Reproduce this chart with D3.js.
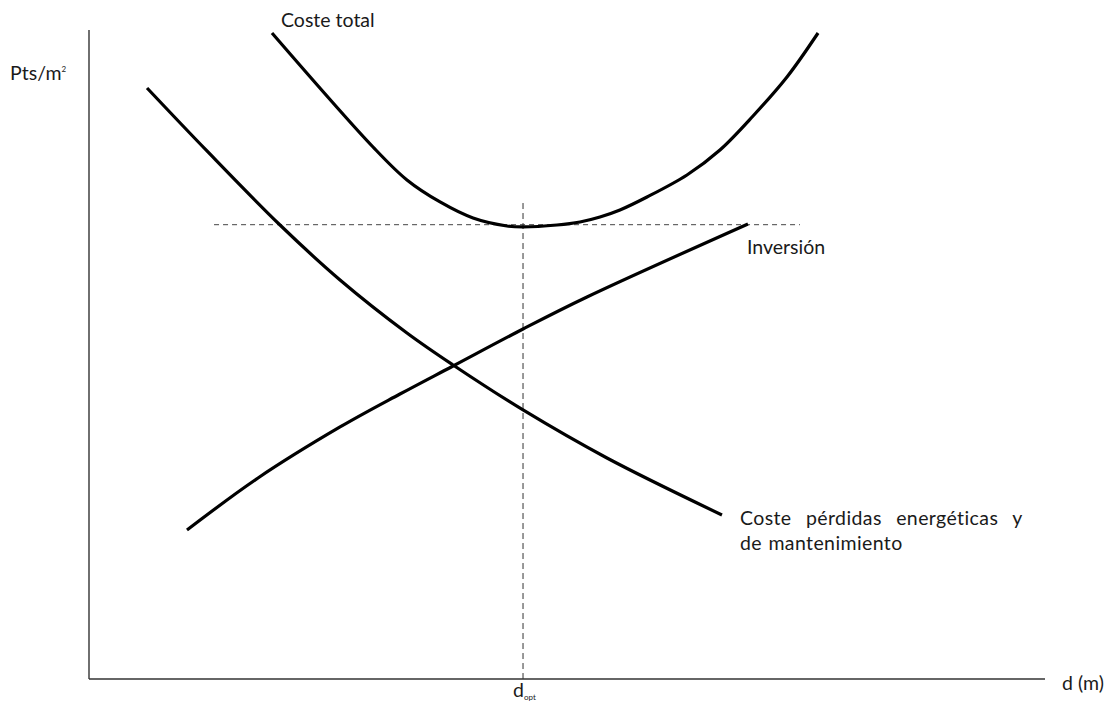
<!DOCTYPE html>
<html>
<head>
  <meta charset="utf-8">
  <title>Coste total - espesor optimo</title>
  <script src="https://d3js.org/d3.v7.min.js"></script>
  <style>
    body { margin: 0; background: #fff; }
    svg text { font-family: Lato, "Open Sans", sans-serif; fill: #1a1a1a; font-size: 19.5px; }
  </style>
</head>
<body>
<div id="grafico"></div>
<script>
// curvas (d en unidades arbitrarias 0-100, coste 0-100)
var perdidas_d = [6.07, 12.34, 19.98, 26.26, 33.26, 38.08, 45.40, 54.18, 66.21];
var perdidas_c = [91.06, 81.36, 69.95, 61.48, 53.31, 48.38, 41.45, 34.05, 25.27];

var inversion_d = [10.25, 17.68, 26.26, 32.53, 38.08, 45.40, 52.09, 68.93];
var inversion_c = [22.96, 30.97, 38.83, 43.91, 48.23, 53.93, 58.86, 70.11];

var total_d = [19.14, 29.71, 33.26, 36.72, 40.17, 43.72, 45.40, 48.95, 51.36, 53.45,
               55.54, 58.37, 62.55, 66.00, 69.46, 73.01, 76.26];
var total_c = [99.54, 81.97, 76.89, 73.50, 71.03, 69.80, 69.65, 69.95, 70.42, 71.19,
               72.27, 74.27, 77.66, 81.51, 86.75, 92.76, 99.54];

var d_opt = 45.40;
var c_ref = 70.0;          // linea de referencia horizontal
var ref_desde = 13.08, ref_hasta = 74.37;
var opt_hasta = 73.34;

var etiquetas = {
  y: "Pts/m",
  x: "d (m)",
  total: "Coste total",
  inversion: "Inversión",
  perdidas: ["Coste pérdidas energéticas y", "de mantenimiento"]
};

var W = 1112, H = 708;

var x = d3.scaleLinear().domain([0, 100]).range([89, 1045]);
var y = d3.scaleLinear().domain([0, 100]).range([679, 30]);

var svg = d3.select("#grafico").append("svg")
  .attr("width", W)
  .attr("height", H);

// ejes
svg.append("line")
  .attr("x1", x(0)).attr("y1", y(0))
  .attr("x2", x(0)).attr("y2", y(100))
  .attr("stroke", "#333").attr("stroke-width", 1.4);
svg.append("line")
  .attr("x1", x(0)).attr("y1", y(0))
  .attr("x2", x(100)).attr("y2", y(0))
  .attr("stroke", "#333").attr("stroke-width", 1.6);

// lineas discontinuas
svg.append("line")
  .attr("x1", x(ref_desde)).attr("y1", y(c_ref))
  .attr("x2", x(ref_hasta)).attr("y2", y(c_ref))
  .attr("stroke", "#444").attr("stroke-width", 1)
  .attr("stroke-dasharray", "5,4");
svg.append("line")
  .attr("x1", x(d_opt)).attr("y1", y(opt_hasta))
  .attr("x2", x(d_opt)).attr("y2", y(0))
  .attr("stroke", "#333").attr("stroke-width", 1)
  .attr("stroke-dasharray", "6,4");

var linea = d3.line()
  .x(d => x(d[0]))
  .y(d => y(d[1]))
  .curve(d3.curveCatmullRom.alpha(0.5));

var curvas = [
  d3.zip(perdidas_d, perdidas_c),
  d3.zip(inversion_d, inversion_c),
  d3.zip(total_d, total_c)
];

svg.selectAll("path.curva").data(curvas).enter().append("path")
  .attr("class", "curva")
  .attr("d", linea)
  .attr("fill", "none")
  .attr("stroke", "#000")
  .attr("stroke-width", 3.2)
  .attr("stroke-linecap", "butt");

// textos
var ty = svg.append("text")
  .attr("x", 10).attr("y", 80)
  .text(etiquetas.y);
ty.append("tspan").attr("dy", -8).style("font-size", "8px").text("2");

svg.append("text")
  .attr("x", 1062).attr("y", 690)
  .text(etiquetas.x);

var to = svg.append("text")
  .attr("x", 513).attr("y", 697)
  .text("d");
to.append("tspan").attr("dy", 3).style("font-size", "8px").text("opt");

svg.append("text")
  .attr("x", 281).attr("y", 27)
  .text(etiquetas.total);

svg.append("text")
  .attr("x", 747).attr("y", 254)
  .text(etiquetas.inversion);

svg.append("g").selectAll("text").data(etiquetas.perdidas).enter().append("text")
  .attr("x", 740)
  .attr("y", (d, i) => 525 + i * 25)
  .style("letter-spacing", "0.4px")
  .style("word-spacing", (d, i) => i == 0 ? "9px" : "1px")
  .text(d => d);
</script>
</body>
</html>
